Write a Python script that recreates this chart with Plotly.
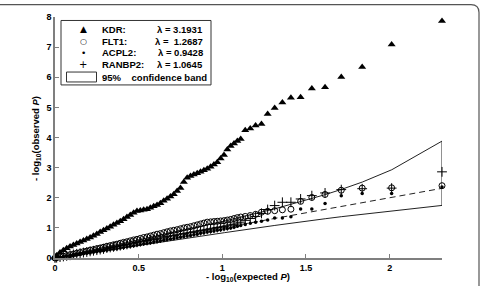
import plotly.graph_objects as go

# expected -log10(P) (shared x for all genes)
expected = [2.313, 2.012, 1.836, 1.711, 1.614, 1.535, 1.468, 1.410, 1.359, 1.313,
            1.271, 1.234, 1.199, 1.167, 1.137,
            1.11, 1.09, 1.07, 1.05, 1.03, 1.01, 0.99, 0.97, 0.95, 0.93,
            0.91, 0.89, 0.87, 0.85, 0.83, 0.81, 0.79, 0.77, 0.75, 0.73,
            0.71, 0.69, 0.67, 0.65, 0.63, 0.61, 0.59, 0.57, 0.55, 0.53,
            0.51, 0.49, 0.47, 0.45, 0.43, 0.41, 0.39, 0.37, 0.35, 0.33,
            0.31, 0.29, 0.27, 0.25, 0.23, 0.21, 0.19, 0.17, 0.15, 0.13,
            0.11, 0.09, 0.07, 0.05, 0.03, 0.01, 0.00]

kdr = [7.87, 7.09, 6.34, 6.01, 5.67, 5.63, 5.34, 5.32, 5.16, 4.98,
       4.78, 4.45, 4.40, 4.30, 4.24,
       3.95, 3.88, 3.80, 3.72, 3.60, 3.42, 3.30, 3.18, 3.10, 3.03,
       2.96, 2.91, 2.86, 2.81, 2.77, 2.72, 2.66, 2.52, 2.32, 2.22,
       2.12, 2.04, 1.97, 1.90, 1.82, 1.76, 1.72, 1.67, 1.62, 1.60,
       1.58, 1.56, 1.50, 1.43, 1.36, 1.29, 1.22, 1.16, 1.10, 1.04,
       0.98, 0.92, 0.86, 0.80, 0.74, 0.68, 0.63, 0.58, 0.53, 0.48,
       0.43, 0.38, 0.32, 0.26, 0.18, 0.08, 0.01]

flt1 = [2.40, 2.33, 2.32, 2.25, 2.11, 2.01, 1.88, 1.62, 1.60, 1.57,
        1.55, 1.52, 1.45, 1.41, 1.38,
        1.36, 1.34, 1.31, 1.28, 1.26, 1.24, 1.23, 1.22, 1.21, 1.20,
        1.19, 1.16, 1.13, 1.10, 1.07, 1.04, 1.02, 1.00, 0.97, 0.94,
        0.92, 0.90, 0.87, 0.84, 0.81, 0.79, 0.76, 0.73, 0.70, 0.68,
        0.65, 0.62, 0.60, 0.57, 0.54, 0.52, 0.49, 0.46, 0.44, 0.41,
        0.39, 0.36, 0.33, 0.31, 0.28, 0.26, 0.23, 0.21, 0.18, 0.16,
        0.13, 0.11, 0.08, 0.06, 0.04, 0.01, 0.00]

acpl2 = [2.36, 2.14, 2.14, 2.07, 1.81, 1.63, 1.63, 1.37, 1.33, 1.33,
         1.26, 1.22, 1.19, 1.15, 1.11,
         1.08, 1.05, 1.02, 1.00, 0.98, 0.96, 0.94, 0.92, 0.90, 0.88,
         0.86, 0.84, 0.82, 0.79, 0.77, 0.75, 0.73, 0.71, 0.69, 0.67,
         0.65, 0.63, 0.61, 0.59, 0.57, 0.55, 0.53, 0.51, 0.49, 0.47,
         0.45, 0.43, 0.41, 0.39, 0.37, 0.35, 0.33, 0.31, 0.29, 0.28,
         0.26, 0.24, 0.22, 0.21, 0.19, 0.17, 0.16, 0.14, 0.12, 0.11,
         0.09, 0.07, 0.06, 0.04, 0.02, 0.01, 0.00]

ranbp2 = [2.86, 2.32, 2.30, 2.27, 2.16, 2.07, 1.96, 1.85, 1.85, 1.74,
          1.61, 1.48, 1.38, 1.31, 1.25,
          1.19, 1.16, 1.12, 1.10, 1.07, 1.05, 1.03, 1.01, 0.99, 0.97,
          0.95, 0.93, 0.91, 0.89, 0.87, 0.85, 0.83, 0.81, 0.79, 0.77,
          0.75, 0.73, 0.71, 0.69, 0.66, 0.64, 0.62, 0.60, 0.58, 0.56,
          0.54, 0.52, 0.50, 0.47, 0.45, 0.43, 0.41, 0.39, 0.37, 0.35,
          0.33, 0.30, 0.28, 0.26, 0.24, 0.22, 0.20, 0.18, 0.16, 0.14,
          0.12, 0.09, 0.07, 0.05, 0.03, 0.01, 0.00]

band_x = [0.0, 0.137, 0.2, 0.314, 0.4, 0.615, 0.836, 1.013, 1.314, 1.468,
          1.615, 1.711, 1.837, 2.013, 2.313]
band_upper = [0.0, 0.175, 0.248, 0.38, 0.48, 0.745, 1.008, 1.227, 1.633, 1.865,
              2.104, 2.276, 2.522, 2.93, 3.88]
band_lower = [0.0, 0.103, 0.157, 0.257, 0.333, 0.502, 0.693, 0.841, 1.081, 1.202,
              1.304, 1.371, 1.455, 1.568, 1.745]

legend_names = ["KDR:", "FLT1:", "ACPL2:", "RANBP2:"]
legend_lambda = ["\u03bb = 3.1931", "\u03bb =&nbsp; 1.2687", "\u03bb = 0.9428", "\u03bb = 1.0645"]
legend_glyphs = ["\u25b2", "\u25cb", "\u2022", "+"]

x_ticks = [0, 0.5, 1, 1.5, 2]
x_tick_text = ["0", "0.5", "1", "1.5", "2"]
y_ticks = [0, 1, 2, 3, 4, 5, 6, 7, 8]

W, H = 481, 286
ML, MR, MT, MB = 55, 39, 15, 28
PW, PH = W - ML - MR, H - MT - MB


def px(x):
    return (x - ML) / PW


def py(y):
    return (H - MB - y) / PH


FONT = "Liberation Sans, Arial, sans-serif"
TXT = 9.5

fig = go.Figure()

# confidence band outline
fig.add_trace(go.Scatter(
    x=band_x + band_x[::-1], y=band_upper + band_lower[::-1],
    mode="lines", line=dict(color="#222222", width=1), hoverinfo="skip",
    showlegend=False))

# expected line
fig.add_trace(go.Scatter(
    x=[0, expected[0]], y=[0, expected[0]], mode="lines",
    line=dict(color="#222222", width=1, dash="6px,4px"), showlegend=False))

fig.add_trace(go.Scatter(
    x=expected, y=kdr, mode="markers", name="KDR", cliponaxis=False,
    marker=dict(symbol="triangle-up", size=7, color="black"), showlegend=False))
fig.add_trace(go.Scatter(
    x=expected, y=flt1, mode="markers", name="FLT1", cliponaxis=False,
    marker=dict(symbol="circle-open", size=6, color="black", line=dict(width=1)),
    showlegend=False))
fig.add_trace(go.Scatter(
    x=expected, y=acpl2, mode="markers", name="ACPL2", cliponaxis=False,
    marker=dict(symbol="circle", size=3.5, color="black"), showlegend=False))
fig.add_trace(go.Scatter(
    x=expected, y=ranbp2, mode="markers", name="RANBP2", cliponaxis=False,
    marker=dict(symbol="cross-thin-open", size=7, color="black", line=dict(width=1)),
    showlegend=False))

annotations = []
shapes = []

# legend box
shapes.append(dict(type="rect", xref="paper", yref="paper",
                   x0=px(61), x1=px(211), y0=py(83.5), y1=py(18.5),
                   line=dict(color="#333333", width=1), fillcolor="rgba(0,0,0,0)"))
# band swatch
shapes.append(dict(type="rect", xref="paper", yref="paper",
                   x0=px(66.5), x1=px(96.5), y0=py(80.5), y1=py(70.5),
                   line=dict(color="#333333", width=1), fillcolor="white"))

row_y = [27.5, 39.3, 51.0, 62.7]
glyph_sizes = [9, 8, 9, 10]
for i in range(4):
    annotations.append(dict(xref="paper", yref="paper", x=px(83), y=py(row_y[i]),
                            text=legend_glyphs[i], showarrow=False,
                            xanchor="center", yanchor="middle",
                            font=dict(family="DejaVu Sans", size=glyph_sizes[i], color="black")))
    annotations.append(dict(xref="paper", yref="paper", x=px(99.5), y=py(row_y[i]),
                            text="<b>" + legend_names[i] + "</b>", showarrow=False,
                            xanchor="left", yanchor="middle",
                            font=dict(family=FONT, size=TXT, color="black")))
    annotations.append(dict(xref="paper", yref="paper", x=px(205), y=py(row_y[i]),
                            text="<b>" + legend_lambda[i] + "</b>", showarrow=False,
                            xanchor="right", yanchor="middle",
                            font=dict(family=FONT, size=TXT, color="black")))
annotations.append(dict(xref="paper", yref="paper", x=px(99.5), y=py(75.5),
                        text="<b>95%&nbsp;&nbsp;&nbsp; confidence band</b>", showarrow=False,
                        xanchor="left", yanchor="middle",
                        font=dict(family=FONT, size=TXT, color="black")))

# axis titles
annotations.append(dict(xref="paper", yref="paper", x=px(247.5), y=py(277),
                        text="<b>- log<sub>10</sub>(expected <i>P</i>)</b>", showarrow=False,
                        xanchor="center", yanchor="middle",
                        font=dict(family=FONT, size=TXT, color="black")))
annotations.append(dict(xref="paper", yref="paper", x=px(36), y=py(138),
                        text="<b>- log<sub>10</sub>(observed <i>P</i>)</b>", showarrow=False,
                        textangle=-90, xanchor="center", yanchor="middle",
                        font=dict(family=FONT, size=TXT, color="black")))

# outer frame (rounded top-right corner)
r = 8
frame = "M {a},{b} L {c},{b} Q {d},{b} {d},{e} L {d},{f}".format(
    a=px(0), b=py(2.5), c=px(479 - r), d=px(479), e=py(2.5 + r), f=py(290))
shapes.append(dict(type="path", xref="paper", yref="paper", path=frame,
                   line=dict(color="#555555", width=1.2)))

fig.update_layout(
    width=W, height=H,
    margin=dict(l=ML, r=MR, t=MT, b=MB, pad=0),
    paper_bgcolor="white", plot_bgcolor="white",
    showlegend=False,
    annotations=annotations, shapes=shapes,
    font=dict(family=FONT, color="black"),
    xaxis=dict(range=[0, expected[0]], tickvals=x_ticks, ticktext=x_tick_text,
               showgrid=False, zeroline=False, showline=True,
               linecolor="#7f7f7f", linewidth=1.5, ticks="inside", ticklen=4,
               tickcolor="#7f7f7f", tickfont=dict(family=FONT, size=9, color="black", weight="bold")),
    yaxis=dict(range=[0, 8], tickvals=y_ticks,
               showgrid=False, zeroline=False, showline=True,
               linecolor="#7f7f7f", linewidth=1.5, ticks="inside", ticklen=4,
               tickcolor="#7f7f7f", tickfont=dict(family=FONT, size=9, color="black", weight="bold")),
)

fig.write_html("out.html")
